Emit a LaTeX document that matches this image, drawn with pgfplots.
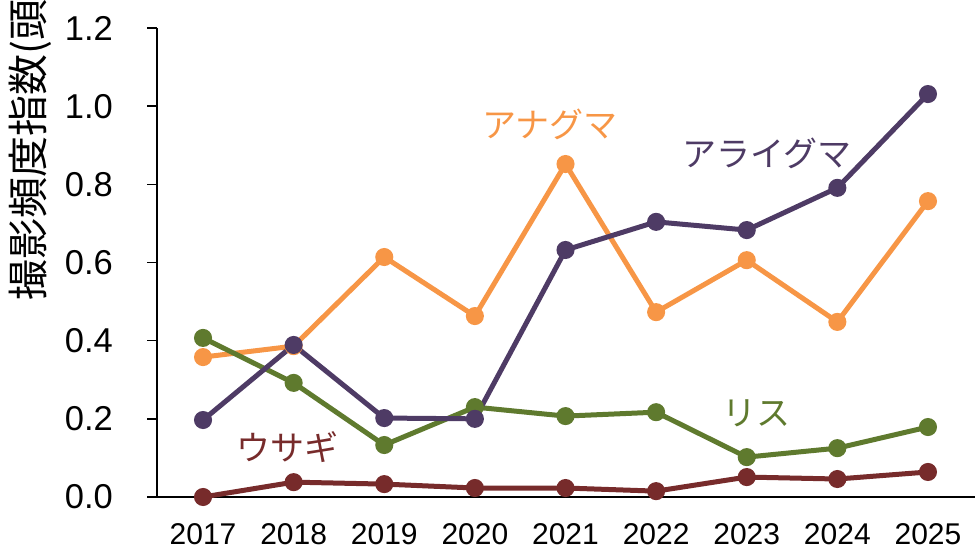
\documentclass[border=0pt]{standalone}
\usepackage{fontspec}
\setmainfont{Liberation Sans}
\newfontfamily\jp{Noto Sans CJK JP}
\usepackage{pgfplots}
\pgfplotsset{compat=1.18}
\definecolor{cOr}{HTML}{F79646}
\definecolor{cPu}{HTML}{4E3B65}
\definecolor{cGr}{HTML}{5F7A2E}
\definecolor{cRe}{HTML}{772B2B}
\begin{document}
\begin{tikzpicture}[x=1pt,y=1pt]
\path[use as bounding box] (0,0) rectangle (980,555);
\begin{axis}[
  at={(157pt,58pt)}, anchor=south west,
  scale only axis, width=818pt, height=469pt,
  xmin=2016.492, xmax=2025.519, ymin=0, ymax=1.2,
  clip=false,
  axis x line*=bottom, axis y line*=left,
  axis line style={line width=1.5pt, -},
  xtick={2017,2018,2019,2020,2021,2022,2023,2024,2025},
  ytick={0,0.2,0.4,0.6,0.8,1.0,1.2},
  tick align=outside, major tick length=10pt,
  xtick style={draw=none},
  ytick style={line width=1.5pt, black},
  /pgf/number format/assume math mode=true,
  xticklabel style={/pgf/number format/1000 sep={}, font=\fontsize{30}{30}\selectfont, inner sep=0pt, anchor=north, yshift=-16pt},
  yticklabel style={/pgf/number format/.cd, fixed, fixed zerofill, precision=1, /tikz/.cd, font=\fontsize{34.5}{34.5}\selectfont, inner sep=0pt, anchor=east, xshift=-34pt},
  every axis plot/.append style={line width=5pt, mark=*, mark size=6.5pt},
]
\addplot[color=cOr, mark options={fill=cOr}] coordinates {
(2017,0.358) (2018,0.386) (2019,0.614) (2020,0.463) (2021,0.852) (2022,0.473) (2023,0.606) (2024,0.448) (2025,0.757)};
\addplot[color=cRe, mark options={fill=cRe}] coordinates {
(2017,0.0) (2018,0.038) (2019,0.033) (2020,0.023) (2021,0.023) (2022,0.015) (2023,0.051) (2024,0.046) (2025,0.064)};
\addplot[color=cGr, mark options={fill=cGr}] coordinates {
(2017,0.407) (2018,0.292) (2019,0.133) (2020,0.230) (2021,0.207) (2022,0.217) (2023,0.102) (2024,0.125) (2025,0.179)};
\addplot[color=cPu, mark options={fill=cPu}] coordinates {
(2017,0.197) (2018,0.389) (2019,0.202) (2020,0.200) (2021,0.632) (2022,0.704) (2023,0.683) (2024,0.791) (2025,1.031)};
\node[text=cOr, font=\jp\fontsize{34}{34}\selectfont, inner sep=0pt] at (axis cs:2020.83,0.954) {アナグマ};
\node[text=cPu, font=\jp\fontsize{34}{34}\selectfont, inner sep=0pt] at (axis cs:2023.22,0.878) {アライグマ};
\node[text=cGr, font=\jp\fontsize{34}{34}\selectfont, inner sep=0pt] at (axis cs:2023.11,0.215) {リス};
\node[text=cRe, font=\jp\fontsize{34}{34}\selectfont, inner sep=0pt] at (axis cs:2017.93,0.128) {ウサギ};
\end{axis}
\node[rotate=90, anchor=west, inner sep=0pt, font=\jp\fontsize{41}{41}\selectfont] at (30,254) {撮影頻度指数(頭/100カメラ日)};
\end{tikzpicture}
\end{document}
